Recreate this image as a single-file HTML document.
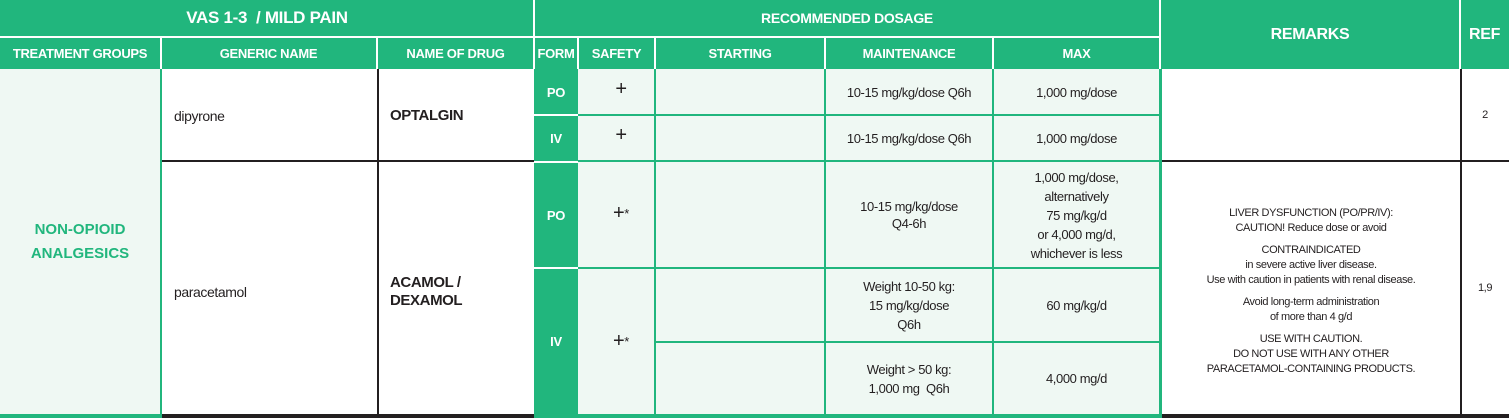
<!DOCTYPE html>
<html><head><meta charset="utf-8"><style>
body{margin:0;width:1509px;height:418px;background:#fff;position:relative;overflow:hidden;font-family:"Liberation Sans",sans-serif;}
div{position:absolute;box-sizing:border-box;}
.g{background:#21b67d;}
.lg{background:#eff8f3;}
.t{display:flex;align-items:center;justify-content:center;text-align:center;}
.h{color:#fff;font-weight:bold;font-size:13px;letter-spacing:-0.3px;}
.c{color:#231f20;font-size:13px;letter-spacing:-0.4px;line-height:17px;}
.vw{background:#fff;width:2px;}
.gl{background:#21b67d;}
.bl{background:#231f20;}
</style></head><body>
<!-- header -->
<div class="g" style="left:0;top:0;width:1509px;height:69px"></div>
<div class="t h" style="left:0;top:0;width:534px;height:36px;font-size:17px">VAS 1-3&nbsp; / MILD PAIN</div>
<div class="t h" style="left:534px;top:0;width:626px;height:36px;font-size:14px">RECOMMENDED DOSAGE</div>
<div style="left:0;top:36px;width:1160px;height:2px;background:#fff"></div>
<div class="t h" style="left:0;top:38px;width:160px;height:31px">TREATMENT GROUPS</div>
<div class="t h" style="left:160px;top:38px;width:217px;height:31px">GENERIC NAME</div>
<div class="t h" style="left:377px;top:38px;width:157px;height:31px">NAME OF DRUG</div>
<div class="t h" style="left:534px;top:38px;width:44px;height:31px">FORM</div>
<div class="t h" style="left:578px;top:38px;width:77px;height:31px">SAFETY</div>
<div class="t h" style="left:655px;top:38px;width:170px;height:31px">STARTING</div>
<div class="t h" style="left:825px;top:38px;width:168px;height:31px">MAINTENANCE</div>
<div class="t h" style="left:993px;top:38px;width:167px;height:31px">MAX</div>
<div class="t h" style="left:1160px;top:0;width:300px;height:69px;font-size:16px">REMARKS</div>
<div class="t h" style="left:1460px;top:0;width:49px;height:69px;font-size:16px">REF</div>
<div class="vw" style="left:533px;top:0;height:69px"></div>
<div class="vw" style="left:1159px;top:0;height:69px"></div>
<div class="vw" style="left:1459px;top:0;height:69px"></div>
<div class="vw" style="left:160px;top:36px;height:33px"></div>
<div class="vw" style="left:376px;top:36px;height:33px"></div>
<div class="vw" style="left:577px;top:36px;height:33px"></div>
<div class="vw" style="left:654px;top:36px;height:33px"></div>
<div class="vw" style="left:824px;top:36px;height:33px"></div>
<div class="vw" style="left:992px;top:36px;height:33px"></div>
<!-- body backgrounds -->
<div class="lg" style="left:0;top:69px;width:160px;height:346px"></div>
<div class="t" style="left:0;top:69px;width:160px;height:346px;color:#21b67d;font-weight:bold;font-size:15px;line-height:24px">NON-OPIOID<br>ANALGESICS</div>
<div class="gl" style="left:160px;top:69px;width:2px;height:346px"></div>
<div class="g" style="left:534px;top:69px;width:44px;height:346px"></div>
<div class="lg" style="left:578px;top:69px;width:582px;height:346px"></div>
<!-- grid lines dosage -->
<div class="gl" style="left:578px;top:114px;width:582px;height:2px"></div>
<div class="gl" style="left:578px;top:160px;width:582px;height:2px"></div>
<div class="gl" style="left:578px;top:267px;width:582px;height:2px"></div>
<div class="gl" style="left:655px;top:341px;width:505px;height:2px"></div>
<div style="left:534px;top:114px;width:44px;height:2px;background:#fff"></div>
<div style="left:534px;top:161px;width:44px;height:2px;background:#fff"></div>
<div style="left:534px;top:267px;width:44px;height:2px;background:#fff"></div>
<div class="gl" style="left:654px;top:69px;width:2px;height:346px"></div>
<div class="gl" style="left:824px;top:69px;width:2px;height:346px"></div>
<div class="gl" style="left:992px;top:69px;width:2px;height:346px"></div>
<div class="gl" style="left:1159px;top:69px;width:3px;height:346px"></div>
<div class="bl" style="left:377px;top:69px;width:1.5px;height:346px"></div>
<div class="bl" style="left:1460px;top:69px;width:1.5px;height:346px"></div>
<div class="bl" style="left:162px;top:160px;width:372px;height:2px"></div>
<div class="bl" style="left:1162px;top:160px;width:347px;height:2px"></div>
<div class="gl" style="left:0;top:414px;width:162px;height:4px"></div>
<div class="bl" style="left:162px;top:414px;width:372px;height:4px"></div>
<div class="gl" style="left:534px;top:414px;width:628px;height:4px"></div>
<div class="bl" style="left:1162px;top:414px;width:347px;height:4px"></div>
<!-- texts -->
<div class="c" style="left:174px;top:108px;font-size:14px">dipyrone</div>
<div class="c" style="left:390px;top:107px;font-size:15px;font-weight:bold">OPTALGIN</div>
<div class="c" style="left:174px;top:284px;font-size:14px">paracetamol</div>
<div class="c" style="left:390px;top:274px;font-size:15px;font-weight:bold;line-height:18px">ACAMOL /<br>DEXAMOL</div>
<div class="t h" style="left:534px;top:69px;width:44px;height:46px">PO</div>
<div class="t h" style="left:534px;top:115px;width:44px;height:46px">IV</div>
<div class="t h" style="left:534px;top:162px;width:44px;height:106px">PO</div>
<div class="t h" style="left:534px;top:268px;width:44px;height:147px">IV</div>
<div class="t c" style="left:578px;top:80px;width:86px;height:18px;font-size:20px">+</div>
<div class="t c" style="left:578px;top:126px;width:86px;height:18px;font-size:20px">+</div>
<div class="t c" style="left:578px;top:204px;width:86px;height:18px;font-size:20px">+<sup style="font-size:13px">*</sup></div>
<div class="t c" style="left:578px;top:332px;width:86px;height:18px;font-size:20px">+<sup style="font-size:13px">*</sup></div>
<div class="t c" style="left:825px;top:69px;width:168px;height:46px">10-15 mg/kg/dose Q6h</div>
<div class="t c" style="left:825px;top:115px;width:168px;height:46px">10-15 mg/kg/dose Q6h</div>
<div class="t c" style="left:825px;top:162px;width:168px;height:106px">10-15 mg/kg/dose<br>Q4-6h</div>
<div class="t c" style="left:825px;top:268px;width:168px;height:74px;line-height:19px">Weight 10-50 kg:<br>15 mg/kg/dose<br>Q6h</div>
<div class="t c" style="left:825px;top:342px;width:168px;height:73px;line-height:19px">Weight &gt; 50 kg:<br>1,000 mg&nbsp; Q6h</div>
<div class="t c" style="left:993px;top:69px;width:167px;height:46px">1,000 mg/dose</div>
<div class="t c" style="left:993px;top:115px;width:167px;height:46px">1,000 mg/dose</div>
<div class="t c" style="left:993px;top:162px;width:167px;height:106px;line-height:19px">1,000 mg/dose,<br>alternatively<br>75 mg/kg/d<br>or 4,000 mg/d,<br>whichever is less</div>
<div class="t c" style="left:993px;top:268px;width:167px;height:74px">60 mg/kg/d</div>
<div class="t c" style="left:993px;top:342px;width:167px;height:73px">4,000 mg/d</div>
<div class="t c" style="left:1162px;top:196px;width:298px;height:190px;font-size:11px;line-height:15px;flex-direction:column">
<div style="position:static">LIVER DYSFUNCTION (PO/PR/IV):<br>CAUTION! Reduce dose or avoid</div>
<div style="position:static;margin-top:7px">CONTRAINDICATED<br>in severe active liver disease.<br>Use with caution in patients with renal disease.</div>
<div style="position:static;margin-top:7px">Avoid long-term administration<br>of more than 4 g/d</div>
<div style="position:static;margin-top:7px">USE WITH CAUTION.<br>DO NOT USE WITH ANY OTHER<br>PARACETAMOL-CONTAINING PRODUCTS.</div>
</div>
<div class="t c" style="left:1461px;top:69px;width:48px;height:92px;font-size:11px">2</div>
<div class="t c" style="left:1461px;top:162px;width:48px;height:252px;font-size:11px">1,9</div>
</body></html>
